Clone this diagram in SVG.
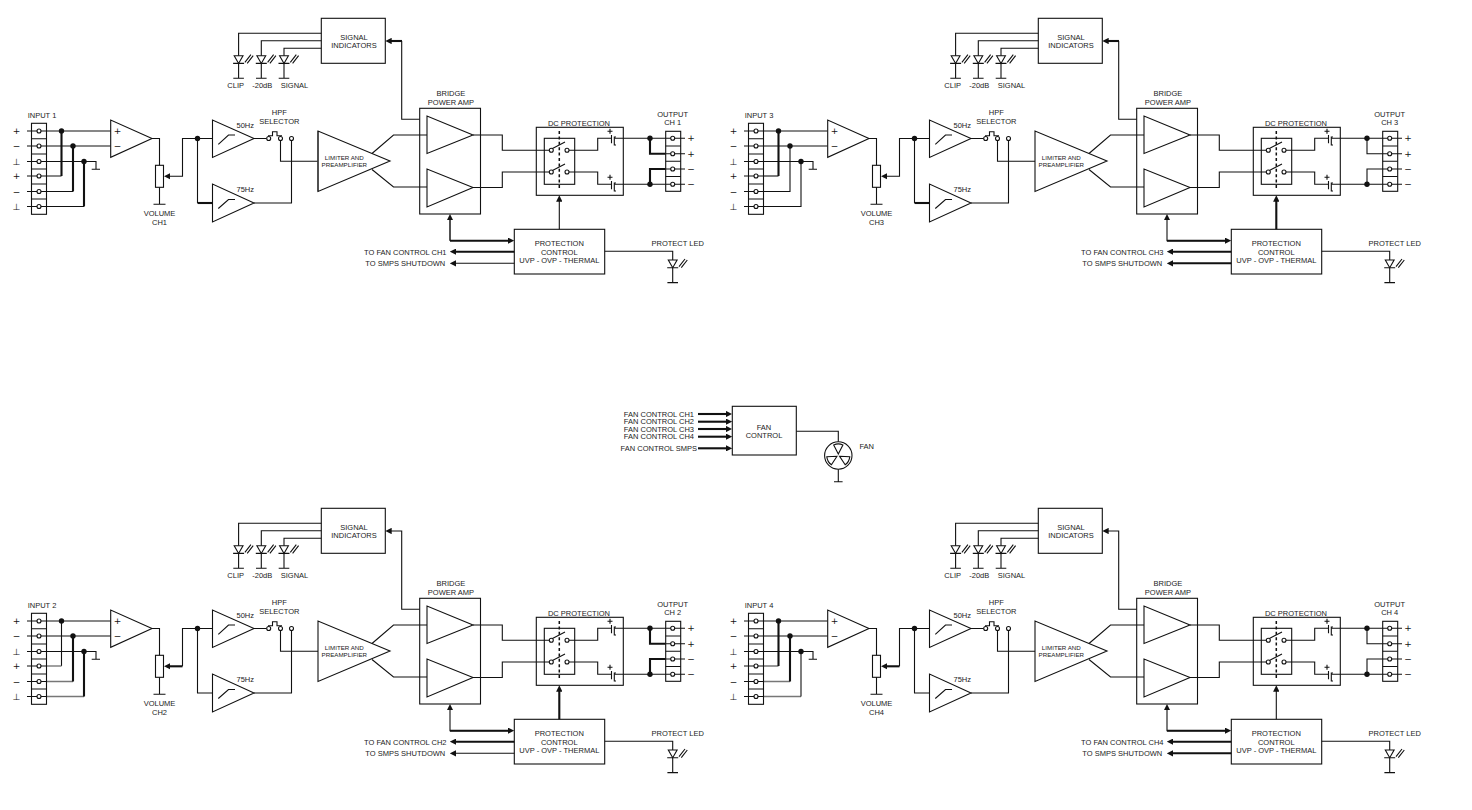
<svg xmlns="http://www.w3.org/2000/svg" width="1472" height="810" viewBox="0 0 1472 810">
<style>
text{font-family:"Liberation Sans",Arial,sans-serif;font-size:7.5px;fill:#1a1a1a;text-anchor:middle;opacity:.99}
.s{font-family:"DejaVu Sans",sans-serif;font-size:9px;fill:#111}
.m{font-size:6.2px}
.e{text-anchor:end}
.b,.l,.t,.g{fill:none;stroke:#111;stroke-width:1.1}
.w{fill:#fff;stroke:#111;stroke-width:1.1}
.t{stroke-width:2.1}
.g{stroke:#777;stroke-width:1.4}
.d{fill:#111;stroke:none}
.dash{fill:none;stroke:#111;stroke-width:1.5;stroke-dasharray:3 2.4}
.a{marker-end:url(#ah)}
.aa{marker-start:url(#ah);marker-end:url(#ah)}
</style>
<defs>
<marker id="ah" markerUnits="userSpaceOnUse" markerWidth="6.4" markerHeight="6.4" refX="3.2" refY="3.2" orient="auto-start-reverse"><path d="M0 0L6.4 3.2L0 6.4z" fill="#111"/></marker>
<g id="sym-input">
<rect class="b" x="31.5" y="123.3" width="15" height="91"/>
<path class="b" d="M31.5 138.7H46.5M31.5 154H46.5M31.5 169H46.5M31.5 184H46.5M31.5 199H46.5M27 131H46.5M27 146H46.5M27 161.5H46.5M27 176H46.5M27 191.5H46.5M27 206.5H46.5"/>
<circle class="w" cx="39" cy="131" r="2"/><circle class="w" cx="39" cy="146" r="2"/><circle class="w" cx="39" cy="161.5" r="2"/><circle class="w" cx="39" cy="176" r="2"/><circle class="w" cx="39" cy="191.5" r="2"/><circle class="w" cx="39" cy="206.5" r="2"/>
</g>
<g id="sym-output">
<rect class="b" x="665.7" y="131.3" width="15" height="60"/>
<path class="b" d="M665.7 146H680.7M665.7 161.3H680.7M665.7 176.5H680.7M665.7 138.3H685M665.7 153.7H685M665.7 169H685M665.7 184.3H685"/>
<circle class="w" cx="672.7" cy="138.3" r="2"/><circle class="w" cx="672.7" cy="153.7" r="2"/><circle class="w" cx="672.7" cy="169" r="2"/><circle class="w" cx="672.7" cy="184.3" r="2"/>
</g>
<g id="sym-led">
<path class="b" d="M-4.4 0H4.4L0 7.7Z"/>
<path class="b" d="M-5.5 7.7H5.5M0 7.7V22.6M-5.3 22.6H5.3M6.3 6.6L12.3 -1M8.6 7.6L14.6 0"/>
</g>
<g id="sym-cap">
<path class="l" d="M611.5 -3.3V5M616 -1.3H614.3V6.7H616"/>
<path class="l" d="M607.5 -7H612.5M610 -9.5V-4.5"/>
</g>
<g id="sym-blade"><path class="w" d="M0 -1.5L-4.6 -10.6A11.6 11.6 0 0 1 4.6 -10.6Z"/></g>
</defs>

<g id="ch1">
<g id="ch1-connectors">
<path class="l" d="M46.5 131H110.5M46.5 146H110.5M46.5 161.5H96V169.3M91.7 169.3H100"/>
<path class="l" d="M46.5 176H61.5M46.5 191.5H73M46.5 206.5H84"/><path class="t" d="M61.5 176V131M73 191.5V146M84 206.5V161.5"/>
<path class="l" d="M152 138.5H159.5V165.3M159.5 187.3V204.3M153.5 204.3H165.5"/>
<path class="l a" d="M212.5 138.5H182.5V176.3H167.2"/>
<path class="l" d="M197.5 138.5V203"/><path class="t" d="M197.5 203H212.5"/>
<path class="l" d="M254 138.5H266.6M254 203H291.5V140.5M280.5 140.5V161.3H318"/>
<path class="l" d="M372 153.5L393.5 135H427M372 169.5L393.5 187H427"/>
<path class="l" d="M473 135H502.3V150.3H549.3M473 187.5H502.3V172H549.3M569 150.3H597.7V138.3H611.5M569 172H597.7V184.3H611.5M614.3 138.3H665.7M614.3 184.3H665.7"/>
<path class="t" d="M650 138.3V153.7H665.7M650 184.3V169H665.7"/>
<path class="t a" d="M402 41H388.5"/><path class="l" d="M419.7 119.3H401.7V41"/>
<path class="l" d="M321.3 33.3H238.6V55.7M321.3 40.7H261.3V55.7M321.3 48.3H284V55.7"/>
<path class="l a" d="M559.3 229.3V198.5"/>
<path class="g" d="M450 217.2V240.7"/><path class="t a" d="M450 240.7H511"/><path class="l a" d="M450 240.7V217.2"/>
<path class="t a" d="M514.3 251.7H453"/><path class="l a" d="M514.3 263.3H453"/>
<path class="l" d="M604.7 251.3H672.7V260"/>
<circle class="d" cx="61.5" cy="131" r="2.7"/><circle class="d" cx="73" cy="146" r="2.7"/><circle class="d" cx="84" cy="161.5" r="2.7"/><circle class="d" cx="197.5" cy="138.5" r="2.7"/><circle class="d" cx="650" cy="138.3" r="2.7"/><circle class="d" cx="650" cy="184.3" r="2.7"/>
</g>
<g id="ch1-input"><use href="#sym-input"/><text x="42" y="118.3">INPUT 1</text>
<text class="s" x="16.5" y="134">+</text><text class="s" x="16.5" y="149">−</text><text class="s" x="16.5" y="165">⊥</text><text class="s" x="16.5" y="179">+</text><text class="s" x="16.5" y="194.5">−</text><text class="s" x="16.5" y="210">⊥</text></g>
<g id="ch1-opamp"><path class="b" d="M110.7 120V157.3L152 138.5Z"/><text class="s" x="117.5" y="134">+</text><text class="s" x="117.5" y="149">−</text></g>
<g id="ch1-volume"><rect class="b" x="155.5" y="165.3" width="8" height="22"/><text x="159.5" y="216">VOLUME</text><text x="159.5" y="224.5">CH1</text></g>
<g id="ch1-hpf50"><path class="b" d="M212.5 120V157.5L254 138.5Z"/><path class="b" d="M218.3 144.3L228.5 135H235"/><text x="245.3" y="127.7">50Hz</text></g>
<g id="ch1-hpf75"><path class="b" d="M212.5 184V222L254 203Z"/><path class="b" d="M218.3 208.5L228.5 199.5H235"/><text x="245.3" y="192">75Hz</text></g>
<g id="ch1-selector"><path class="b" d="M268 135.7H272.5V131.7H277V135.7H282"/><circle class="w" cx="268.7" cy="138.5" r="2"/><circle class="w" cx="280.5" cy="138.5" r="2"/><circle class="w" cx="291.5" cy="138.5" r="2"/><text x="279.3" y="115.3">HPF</text><text x="279.3" y="124">SELECTOR</text></g>
<g id="ch1-limiter"><path class="g" d="M318 131V191.5"/><path class="b" d="M318 131V191.5L390 161Z"/><text class="m" x="344.3" y="160">LIMITER AND</text><text class="m" x="344.3" y="167.3">PREAMPLIFIER</text></g>
<g id="ch1-bridge"><rect class="b" x="419.7" y="108.3" width="60.8" height="105.7"/><path class="b" d="M427 116V153.5L473 135Z"/><path class="b" d="M427 169V207L473 187.5Z"/><text x="451" y="96">BRIDGE</text><text x="451" y="104.5">POWER AMP</text></g>
<g id="ch1-dc"><rect class="b" x="536.3" y="127.3" width="87" height="68"/><rect class="b" x="544.3" y="138.3" width="30.4" height="46"/><path class="dash" d="M559.3 131V190"/><path class="b" d="M551.5 149L565 142M551.5 171L565 164"/><circle class="w" cx="551.3" cy="150.3" r="2"/><circle class="w" cx="567" cy="150.3" r="2"/><circle class="w" cx="551.3" cy="172" r="2"/><circle class="w" cx="567" cy="172" r="2"/><use href="#sym-cap" y="138.3"/><use href="#sym-cap" y="184.3"/><text x="579" y="125.7">DC PROTECTION</text></g>
<g id="ch1-output"><use href="#sym-output"/><text x="672.7" y="117.3">OUTPUT</text><text x="672.7" y="124.5">CH 1</text><text class="s" x="691" y="141.3">+</text><text class="s" x="691" y="156.7">+</text><text class="s" x="691" y="172">−</text><text class="s" x="691" y="187.3">−</text></g>
<g id="ch1-signal"><rect class="b" x="321.3" y="18.3" width="64" height="45"/><text x="354" y="39.7">SIGNAL</text><text x="354" y="47.7">INDICATORS</text></g>
<g id="ch1-led-clip"><use href="#sym-led" x="238.6" y="55.7"/><text x="235.7" y="87.7">CLIP</text></g>
<g id="ch1-led-20db"><use href="#sym-led" x="261.3" y="55.7"/><text x="262.3" y="87.7">-20dB</text></g>
<g id="ch1-led-signal"><use href="#sym-led" x="284" y="55.7"/><text x="294.5" y="87.7">SIGNAL</text></g>
<g id="ch1-protection"><rect class="b" x="514.3" y="229.3" width="90.4" height="44.7"/><text x="559.3" y="246.3">PROTECTION</text><text x="559.3" y="255">CONTROL</text><text x="559.3" y="263.3">UVP - OVP - THERMAL</text></g>
<g id="ch1-fanout"><text x="405.3" y="254.7">TO FAN CONTROL CH1</text><text x="405.3" y="266">TO SMPS SHUTDOWN</text></g>
<g id="ch1-protect-led"><use href="#sym-led" x="672.7" y="260"/><text x="677.7" y="246">PROTECT LED</text></g>
</g>

<g id="ch2" transform="translate(0,490)">
<g id="ch2-connectors">
<path class="l" d="M46.5 131H110.5M46.5 146H110.5M46.5 161.5H96V169.3M91.7 169.3H100"/>
<path class="l" d="M61.5 131V176"/><path class="g" d="M46.5 176H61.5"/>
<path class="g" d="M46.5 191.5H73M46.5 206.5H84"/><path class="t" d="M73 191.5V146M84 206.5V161.5"/>
<path class="l" d="M152 138.5H159.5V165.3M159.5 187.3V204.3M153.5 204.3H165.5"/>
<path class="l" d="M212.5 138.5H182.5V176.3"/><path class="t a" d="M182.5 176.3H167.2"/>
<path class="l" d="M197.5 138.5V203H212.5"/>
<path class="l" d="M254 138.5H266.6M254 203H291.5V140.5M280.5 140.5V161.3H318"/>
<path class="l" d="M372 153.5L393.5 135H427M372 169.5L393.5 187H427"/>
<path class="l" d="M473 135H502.3V150.3H549.3M473 187.5H502.3V172H549.3M569 150.3H597.7V138.3H611.5M569 172H597.7V184.3H611.5M614.3 138.3H665.7M614.3 184.3H665.7"/>
<path class="t" d="M650 138.3V153.7H665.7M650 184.3V169H665.7"/>
<path class="l a" d="M419.7 119.3H401.7V41H388.5"/>
<path class="l" d="M321.3 33.3H238.6V55.7M321.3 40.7H261.3V55.7M321.3 48.3H284V55.7"/>
<path class="t a" d="M559.3 229.3V198.5"/>
<path class="t" d="M450 240.7H511"/><path class="l aa" d="M450 217.2V240.7H511"/>
<path class="t a" d="M514.3 251.7H453"/><path class="l a" d="M514.3 263.3H453"/>
<path class="l" d="M604.7 251.3H672.7V260"/>
<circle class="d" cx="61.5" cy="131" r="2.7"/><circle class="d" cx="73" cy="146" r="2.7"/><circle class="d" cx="84" cy="161.5" r="2.7"/><circle class="d" cx="197.5" cy="138.5" r="2.7"/><circle class="d" cx="650" cy="138.3" r="2.7"/><circle class="d" cx="650" cy="184.3" r="2.7"/>
</g>
<g id="ch2-input"><use href="#sym-input"/><text x="42" y="118.3">INPUT 2</text>
<text class="s" x="16.5" y="134">+</text><text class="s" x="16.5" y="149">−</text><text class="s" x="16.5" y="165">⊥</text><text class="s" x="16.5" y="179">+</text><text class="s" x="16.5" y="194.5">−</text><text class="s" x="16.5" y="210">⊥</text></g>
<g id="ch2-opamp"><path class="b" d="M110.7 120V157.3L152 138.5Z"/><text class="s" x="117.5" y="134">+</text><text class="s" x="117.5" y="149">−</text></g>
<g id="ch2-volume"><rect class="b" x="155.5" y="165.3" width="8" height="22"/><text x="159.5" y="216">VOLUME</text><text x="159.5" y="224.5">CH2</text></g>
<g id="ch2-hpf50"><path class="b" d="M212.5 120V157.5L254 138.5Z"/><path class="b" d="M218.3 144.3L228.5 135H235"/><text x="245.3" y="127.7">50Hz</text></g>
<g id="ch2-hpf75"><path class="b" d="M212.5 184V222L254 203Z"/><path class="b" d="M218.3 208.5L228.5 199.5H235"/><text x="245.3" y="192">75Hz</text></g>
<g id="ch2-selector"><path class="b" d="M268 135.7H272.5V131.7H277V135.7H282"/><circle class="w" cx="268.7" cy="138.5" r="2"/><circle class="w" cx="280.5" cy="138.5" r="2"/><circle class="w" cx="291.5" cy="138.5" r="2"/><text x="279.3" y="115.3">HPF</text><text x="279.3" y="124">SELECTOR</text></g>
<g id="ch2-limiter"><path class="b" d="M318 131V191.5L390 161Z"/><text class="m" x="344.3" y="160">LIMITER AND</text><text class="m" x="344.3" y="167.3">PREAMPLIFIER</text></g>
<g id="ch2-bridge"><rect class="b" x="419.7" y="108.3" width="60.8" height="105.7"/><path class="b" d="M427 116V153.5L473 135Z"/><path class="b" d="M427 169V207L473 187.5Z"/><text x="451" y="96">BRIDGE</text><text x="451" y="104.5">POWER AMP</text></g>
<g id="ch2-dc"><rect class="b" x="536.3" y="127.3" width="87" height="68"/><rect class="b" x="544.3" y="138.3" width="30.4" height="46"/><path class="dash" d="M559.3 131V190"/><path class="b" d="M551.5 149L565 142M551.5 171L565 164"/><circle class="w" cx="551.3" cy="150.3" r="2"/><circle class="w" cx="567" cy="150.3" r="2"/><circle class="w" cx="551.3" cy="172" r="2"/><circle class="w" cx="567" cy="172" r="2"/><use href="#sym-cap" y="138.3"/><use href="#sym-cap" y="184.3"/><text x="579" y="125.7">DC PROTECTION</text></g>
<g id="ch2-output"><use href="#sym-output"/><text x="672.7" y="117.3">OUTPUT</text><text x="672.7" y="124.5">CH 2</text><text class="s" x="691" y="141.3">+</text><text class="s" x="691" y="156.7">+</text><text class="s" x="691" y="172">−</text><text class="s" x="691" y="187.3">−</text></g>
<g id="ch2-signal"><rect class="b" x="321.3" y="18.3" width="64" height="45"/><text x="354" y="39.7">SIGNAL</text><text x="354" y="47.7">INDICATORS</text></g>
<g id="ch2-led-clip"><use href="#sym-led" x="238.6" y="55.7"/><text x="235.7" y="87.7">CLIP</text></g>
<g id="ch2-led-20db"><use href="#sym-led" x="261.3" y="55.7"/><text x="262.3" y="87.7">-20dB</text></g>
<g id="ch2-led-signal"><use href="#sym-led" x="284" y="55.7"/><text x="294.5" y="87.7">SIGNAL</text></g>
<g id="ch2-protection"><rect class="b" x="514.3" y="229.3" width="90.4" height="44.7"/><text x="559.3" y="246.3">PROTECTION</text><text x="559.3" y="255">CONTROL</text><text x="559.3" y="263.3">UVP - OVP - THERMAL</text></g>
<g id="ch2-fanout"><text x="405.3" y="254.7">TO FAN CONTROL CH2</text><text x="405.3" y="266">TO SMPS SHUTDOWN</text></g>
<g id="ch2-protect-led"><use href="#sym-led" x="672.7" y="260"/><text x="677.7" y="246">PROTECT LED</text></g>
</g>

<g id="ch3" transform="translate(717,0)">
<g id="ch3-connectors">
<path class="l" d="M46.5 131H110.5M46.5 146H110.5M46.5 161.5H96V169.3M91.7 169.3H100"/>
<path class="l" d="M46.5 176H61.5"/><path class="t" d="M61.5 176V131"/><path class="l" d="M46.5 191.5H73V146M46.5 206.5H84V161.5"/>
<path class="l" d="M152 138.5H159.5V165.3M159.5 187.3V204.3M153.5 204.3H165.5"/>
<path class="l a" d="M212.5 138.5H182.5V176.3H167.2"/>
<path class="l" d="M197.5 138.5V203"/><path class="t" d="M197.5 203H212.5"/>
<path class="l" d="M254 138.5H266.6M254 203H291.5V140.5M280.5 140.5V161.3H318"/>
<path class="l" d="M372 153.5L393.5 135H427M372 169.5L393.5 187H427"/>
<path class="l" d="M473 135H502.3V150.3H549.3M473 187.5H502.3V172H549.3M569 150.3H597.7V138.3H611.5M569 172H597.7V184.3H611.5M614.3 138.3H665.7M614.3 184.3H665.7"/>
<path class="l" d="M650 138.3V153.7H665.7M650 184.3V169H665.7"/>
<path class="t a" d="M402 41H388.5"/><path class="l" d="M419.7 119.3H401.7V41"/>
<path class="l" d="M321.3 33.3H238.6V55.7M321.3 40.7H261.3V55.7M321.3 48.3H284V55.7"/>
<path class="t a" d="M559.3 229.3V198.5"/>
<path class="t" d="M450 240.7H511"/><path class="l aa" d="M450 217.2V240.7H511"/>
<path class="t a" d="M514.3 251.7H453"/><path class="t a" d="M514.3 263.3H453"/>
<path class="l" d="M604.7 251.3H672.7V260"/>
<circle class="d" cx="61.5" cy="131" r="2.7"/><circle class="d" cx="73" cy="146" r="2.7"/><circle class="d" cx="84" cy="161.5" r="2.7"/><circle class="d" cx="197.5" cy="138.5" r="2.7"/><circle class="d" cx="650" cy="138.3" r="2.7"/><circle class="d" cx="650" cy="184.3" r="2.7"/>
</g>
<g id="ch3-input"><use href="#sym-input"/><text x="42" y="118.3">INPUT 3</text>
<text class="s" x="16.5" y="134">+</text><text class="s" x="16.5" y="149">−</text><text class="s" x="16.5" y="165">⊥</text><text class="s" x="16.5" y="179">+</text><text class="s" x="16.5" y="194.5">−</text><text class="s" x="16.5" y="210">⊥</text></g>
<g id="ch3-opamp"><path class="b" d="M110.7 120V157.3L152 138.5Z"/><text class="s" x="117.5" y="134">+</text><text class="s" x="117.5" y="149">−</text></g>
<g id="ch3-volume"><rect class="b" x="155.5" y="165.3" width="8" height="22"/><text x="159.5" y="216">VOLUME</text><text x="159.5" y="224.5">CH3</text></g>
<g id="ch3-hpf50"><path class="b" d="M212.5 120V157.5L254 138.5Z"/><path class="b" d="M218.3 144.3L228.5 135H235"/><text x="245.3" y="127.7">50Hz</text></g>
<g id="ch3-hpf75"><path class="b" d="M212.5 184V222L254 203Z"/><path class="b" d="M218.3 208.5L228.5 199.5H235"/><text x="245.3" y="192">75Hz</text></g>
<g id="ch3-selector"><path class="b" d="M268 135.7H272.5V131.7H277V135.7H282"/><circle class="w" cx="268.7" cy="138.5" r="2"/><circle class="w" cx="280.5" cy="138.5" r="2"/><circle class="w" cx="291.5" cy="138.5" r="2"/><text x="279.3" y="115.3">HPF</text><text x="279.3" y="124">SELECTOR</text></g>
<g id="ch3-limiter"><path class="b" d="M318 131V191.5L390 161Z"/><text class="m" x="344.3" y="160">LIMITER AND</text><text class="m" x="344.3" y="167.3">PREAMPLIFIER</text></g>
<g id="ch3-bridge"><rect class="b" x="419.7" y="108.3" width="60.8" height="105.7"/><path class="b" d="M427 116V153.5L473 135Z"/><path class="b" d="M427 169V207L473 187.5Z"/><text x="451" y="96">BRIDGE</text><text x="451" y="104.5">POWER AMP</text></g>
<g id="ch3-dc"><rect class="b" x="536.3" y="127.3" width="87" height="68"/><rect class="b" x="544.3" y="138.3" width="30.4" height="46"/><path class="dash" d="M559.3 131V190"/><path class="b" d="M551.5 149L565 142M551.5 171L565 164"/><circle class="w" cx="551.3" cy="150.3" r="2"/><circle class="w" cx="567" cy="150.3" r="2"/><circle class="w" cx="551.3" cy="172" r="2"/><circle class="w" cx="567" cy="172" r="2"/><use href="#sym-cap" y="138.3"/><use href="#sym-cap" y="184.3"/><text x="579" y="125.7">DC PROTECTION</text></g>
<g id="ch3-output"><use href="#sym-output"/><text x="672.7" y="117.3">OUTPUT</text><text x="672.7" y="124.5">CH 3</text><text class="s" x="691" y="141.3">+</text><text class="s" x="691" y="156.7">+</text><text class="s" x="691" y="172">−</text><text class="s" x="691" y="187.3">−</text></g>
<g id="ch3-signal"><rect class="b" x="321.3" y="18.3" width="64" height="45"/><text x="354" y="39.7">SIGNAL</text><text x="354" y="47.7">INDICATORS</text></g>
<g id="ch3-led-clip"><use href="#sym-led" x="238.6" y="55.7"/><text x="235.7" y="87.7">CLIP</text></g>
<g id="ch3-led-20db"><use href="#sym-led" x="261.3" y="55.7"/><text x="262.3" y="87.7">-20dB</text></g>
<g id="ch3-led-signal"><use href="#sym-led" x="284" y="55.7"/><text x="294.5" y="87.7">SIGNAL</text></g>
<g id="ch3-protection"><rect class="b" x="514.3" y="229.3" width="90.4" height="44.7"/><text x="559.3" y="246.3">PROTECTION</text><text x="559.3" y="255">CONTROL</text><text x="559.3" y="263.3">UVP - OVP - THERMAL</text></g>
<g id="ch3-fanout"><text x="405.3" y="254.7">TO FAN CONTROL CH3</text><text x="405.3" y="266">TO SMPS SHUTDOWN</text></g>
<g id="ch3-protect-led"><use href="#sym-led" x="672.7" y="260"/><text x="677.7" y="246">PROTECT LED</text></g>
</g>

<g id="ch4" transform="translate(717,490)">
<g id="ch4-connectors">
<path class="l" d="M46.5 131H110.5M46.5 146H110.5M46.5 161.5H96V169.3M91.7 169.3H100"/>
<path class="g" d="M46.5 176H61.5M46.5 191.5H73M46.5 206.5H84"/><path class="t" d="M61.5 176V131M73 191.5V146"/><path class="l" d="M84 206.5V161.5"/>
<path class="l" d="M152 138.5H159.5V165.3M159.5 187.3V204.3M153.5 204.3H165.5"/>
<path class="l" d="M212.5 138.5H182.5V176.3"/><path class="t a" d="M182.5 176.3H167.2"/>
<path class="l" d="M197.5 138.5V203H212.5"/>
<path class="l" d="M254 138.5H266.6M254 203H291.5V140.5M280.5 140.5V161.3H318"/>
<path class="l" d="M372 153.5L393.5 135H427M372 169.5L393.5 187H427"/>
<path class="l" d="M473 135H502.3V150.3H549.3M473 187.5H502.3V172H549.3M569 150.3H597.7V138.3H611.5M569 172H597.7V184.3H611.5M614.3 138.3H665.7M614.3 184.3H665.7"/>
<path class="l" d="M650 138.3V153.7H665.7M650 184.3V169H665.7"/>
<path class="l a" d="M419.7 119.3H401.7V41H388.5"/>
<path class="l" d="M321.3 33.3H238.6V55.7M321.3 40.7H261.3V55.7M321.3 48.3H284V55.7"/>
<path class="l a" d="M559.3 229.3V198.5"/>
<path class="t" d="M450 240.7H511"/><path class="l aa" d="M450 217.2V240.7H511"/>
<path class="t a" d="M514.3 251.7H453"/><path class="t a" d="M514.3 263.3H453"/>
<path class="l" d="M604.7 251.3H672.7V260"/>
<circle class="d" cx="61.5" cy="131" r="2.7"/><circle class="d" cx="73" cy="146" r="2.7"/><circle class="d" cx="84" cy="161.5" r="2.7"/><circle class="d" cx="197.5" cy="138.5" r="2.7"/><circle class="d" cx="650" cy="138.3" r="2.7"/><circle class="d" cx="650" cy="184.3" r="2.7"/>
</g>
<g id="ch4-input"><use href="#sym-input"/><text x="42" y="118.3">INPUT 4</text>
<text class="s" x="16.5" y="134">+</text><text class="s" x="16.5" y="149">−</text><text class="s" x="16.5" y="165">⊥</text><text class="s" x="16.5" y="179">+</text><text class="s" x="16.5" y="194.5">−</text><text class="s" x="16.5" y="210">⊥</text></g>
<g id="ch4-opamp"><path class="b" d="M110.7 120V157.3L152 138.5Z"/><text class="s" x="117.5" y="134">+</text><text class="s" x="117.5" y="149">−</text></g>
<g id="ch4-volume"><rect class="b" x="155.5" y="165.3" width="8" height="22"/><text x="159.5" y="216">VOLUME</text><text x="159.5" y="224.5">CH4</text></g>
<g id="ch4-hpf50"><path class="b" d="M212.5 120V157.5L254 138.5Z"/><path class="b" d="M218.3 144.3L228.5 135H235"/><text x="245.3" y="127.7">50Hz</text></g>
<g id="ch4-hpf75"><path class="b" d="M212.5 184V222L254 203Z"/><path class="b" d="M218.3 208.5L228.5 199.5H235"/><text x="245.3" y="192">75Hz</text></g>
<g id="ch4-selector"><path class="b" d="M268 135.7H272.5V131.7H277V135.7H282"/><circle class="w" cx="268.7" cy="138.5" r="2"/><circle class="w" cx="280.5" cy="138.5" r="2"/><circle class="w" cx="291.5" cy="138.5" r="2"/><text x="279.3" y="115.3">HPF</text><text x="279.3" y="124">SELECTOR</text></g>
<g id="ch4-limiter"><path class="b" d="M318 131V191.5L390 161Z"/><text class="m" x="344.3" y="160">LIMITER AND</text><text class="m" x="344.3" y="167.3">PREAMPLIFIER</text></g>
<g id="ch4-bridge"><rect class="b" x="419.7" y="108.3" width="60.8" height="105.7"/><path class="b" d="M427 116V153.5L473 135Z"/><path class="b" d="M427 169V207L473 187.5Z"/><text x="451" y="96">BRIDGE</text><text x="451" y="104.5">POWER AMP</text></g>
<g id="ch4-dc"><rect class="b" x="536.3" y="127.3" width="87" height="68"/><rect class="b" x="544.3" y="138.3" width="30.4" height="46"/><path class="dash" d="M559.3 131V190"/><path class="b" d="M551.5 149L565 142M551.5 171L565 164"/><circle class="w" cx="551.3" cy="150.3" r="2"/><circle class="w" cx="567" cy="150.3" r="2"/><circle class="w" cx="551.3" cy="172" r="2"/><circle class="w" cx="567" cy="172" r="2"/><use href="#sym-cap" y="138.3"/><use href="#sym-cap" y="184.3"/><text x="579" y="125.7">DC PROTECTION</text></g>
<g id="ch4-output"><use href="#sym-output"/><text x="672.7" y="117.3">OUTPUT</text><text x="672.7" y="124.5">CH 4</text><text class="s" x="691" y="141.3">+</text><text class="s" x="691" y="156.7">+</text><text class="s" x="691" y="172">−</text><text class="s" x="691" y="187.3">−</text></g>
<g id="ch4-signal"><rect class="b" x="321.3" y="18.3" width="64" height="45"/><text x="354" y="39.7">SIGNAL</text><text x="354" y="47.7">INDICATORS</text></g>
<g id="ch4-led-clip"><use href="#sym-led" x="238.6" y="55.7"/><text x="235.7" y="87.7">CLIP</text></g>
<g id="ch4-led-20db"><use href="#sym-led" x="261.3" y="55.7"/><text x="262.3" y="87.7">-20dB</text></g>
<g id="ch4-led-signal"><use href="#sym-led" x="284" y="55.7"/><text x="294.5" y="87.7">SIGNAL</text></g>
<g id="ch4-protection"><rect class="b" x="514.3" y="229.3" width="90.4" height="44.7"/><text x="559.3" y="246.3">PROTECTION</text><text x="559.3" y="255">CONTROL</text><text x="559.3" y="263.3">UVP - OVP - THERMAL</text></g>
<g id="ch4-fanout"><text x="405.3" y="254.7">TO FAN CONTROL CH4</text><text x="405.3" y="266">TO SMPS SHUTDOWN</text></g>
<g id="ch4-protect-led"><use href="#sym-led" x="672.7" y="260"/><text x="677.7" y="246">PROTECT LED</text></g>
</g>

<g id="fan-connectors">
<path class="t a" d="M698 414H729"/><path class="t a" d="M698 421.7H729"/><path class="t a" d="M698 429H729"/><path class="t a" d="M698 436.7H729"/><path class="t a" d="M698 448.3H729"/>
<path class="l" d="M796.3 431.3H838.3V441.7M838.3 469.3V481.7M834 481.7H842.6"/>
</g>
<g id="fan-control"><rect class="b" x="732.3" y="406.3" width="64" height="48.7"/><text x="764" y="429.7">FAN</text><text x="764" y="438">CONTROL</text></g>
<g id="fan-labels">
<text class="e" x="694" y="416.8">FAN CONTROL CH1</text><text class="e" x="694" y="424.3">FAN CONTROL CH2</text><text class="e" x="694" y="431.8">FAN CONTROL CH3</text><text class="e" x="694" y="439.3">FAN CONTROL CH4</text><text class="e" x="697" y="451">FAN CONTROL SMPS</text>
</g>
<g id="fan"><circle class="b" cx="838.3" cy="455.5" r="13.7"/><use href="#sym-blade" transform="translate(838.3,455.5)"/><use href="#sym-blade" transform="translate(838.3,455.5) rotate(120)"/><use href="#sym-blade" transform="translate(838.3,455.5) rotate(240)"/><text x="866.7" y="449">FAN</text></g>
</svg>
